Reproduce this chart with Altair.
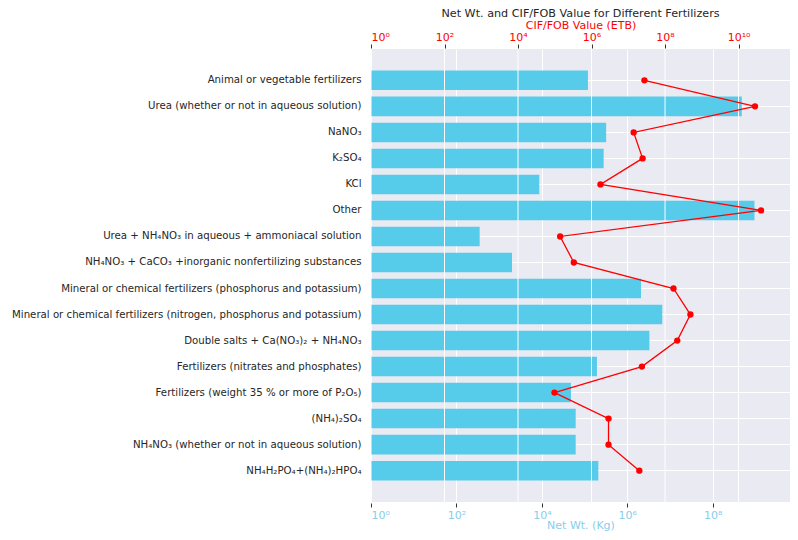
import altair as alt
import pandas as pd

categories = [
    "Animal or vegetable fertilizers",
    "Urea (whether or not in aqueous solution)",
    "NaNO₃",
    "K₂SO₄",
    "KCl",
    "Other",
    "Urea + NH₄NO₃ in aqueous + ammoniacal solution",
    "NH₄NO₃ + CaCO₃ +inorganic nonfertilizing substances",
    "Mineral or chemical fertilizers (phosphorus and potassium)",
    "Mineral or chemical fertilizers (nitrogen, phosphorus and potassium)",
    "Double salts + Ca(NO₃)₂ + NH₄NO₃",
    "Fertilizers (nitrates and phosphates)",
    "Fertilizers (weight 35 % or more of P₂O₅)",
    "(NH₄)₂SO₄",
    "NH₄NO₃ (whether or not in aqueous solution)",
    "NH₄H₂PO₄+(NH₄)₂HPO₄",
]
net_wt_kg = [1.2e5, 4.8e8, 3.2e5, 2.8e5, 8.7e3, 9.5e8, 3.5e2, 2.0e3,
             2.1e6, 6.6e6, 3.3e6, 1.95e5, 4.8e4, 6.2e4, 6.2e4, 2.1e5]
cif_fob_etb = [2.75e7, 2.8e10, 1.4e7, 2.45e7, 1.75e6, 4.1e10, 1.4e5, 3.3e5,
               1.7e8, 4.9e8, 2.15e8, 2.35e7, 9.8e4, 2.9e6, 2.9e6, 2.0e7]
net_ticks = [1, 1e2, 1e4, 1e6, 1e8]
cif_ticks = [1, 1e2, 1e4, 1e6, 1e8, 1e10]

df = pd.DataFrame({
    "cat": categories,
    "net": net_wt_kg,
    "cif": cif_fob_etb,
    "base": [1] * len(categories),
    "idx": list(range(len(categories))),
})
grid_df = pd.DataFrame({"cif": cif_ticks})

SUP = ("['10\u2070','10\u00b9','10\u00b2','10\u00b3','10\u2074','10\u2075','10\u2076',"
       "'10\u2077','10\u2078','10\u2079','10\u00b9\u2070','10\u00b9\u00b9']"
       "[round(log(datum.value)/LN10)]")

BLUE_TXT = "#87CEEB"
BAR = "#57CBEA"
FONT = "DejaVu Sans"

net_dom = [1, 10 ** 9.81]
cif_dom = [1, 10 ** 11.40]

yenc = alt.Y(
    "cat:N", sort=None, title=None,
    scale=alt.Scale(paddingInner=0.25, paddingOuter=0.83),
    axis=alt.Axis(labelFont=FONT, labelFontSize=10.2, labelColor="#262626",
                  labelPadding=10, ticks=False, domain=False, grid=True,
                  gridColor="white", gridWidth=1, bandPosition=0.5,
                  labelLimit=400),
)

bars = alt.Chart(df).mark_bar(color=BAR).encode(
    x=alt.X("net:Q", scale=alt.Scale(type="log", domain=net_dom, nice=False, clamp=True),
            axis=alt.Axis(orient="bottom", values=net_ticks, labelExpr=SUP,
                          title="Net Wt. (Kg)", titleColor=BLUE_TXT, titleFont=FONT,
                          titleFontSize=11, titleFontWeight="normal",
                          titleY=25, titleBaseline="alphabetic",
                          labelColor=BLUE_TXT, labelFont=FONT, labelFontSize=11,
                          labelPadding=2, tickSize=4, tickColor="#333333", offset=1,
                          domain=False, grid=True, gridColor="white", gridWidth=1)),
    x2="base:Q",
    y=yenc,
)

top_axis = alt.Axis(orient="top", values=cif_ticks, labelExpr=SUP,
                    title="CIF/FOB Value (ETB)", titleColor="red", titleFont=FONT,
                    titleFontSize=11, titleFontWeight="normal",
                    titleY=-20, titleBaseline="alphabetic",
                    labelColor="red", labelFont=FONT, labelFontSize=11,
                    labelPadding=2, tickSize=4, tickColor="#333333", offset=1,
                    domain=False, grid=False)
top_scale = alt.Scale(type="log", domain=cif_dom, nice=False)

grid_rules = alt.Chart(grid_df).mark_rule(color="white", strokeWidth=1).encode(
    x=alt.X("cif:Q", scale=top_scale, axis=top_axis),
)

line = alt.Chart(df).mark_line(color="red", strokeWidth=1.3, point=alt.OverlayMarkDef(
    color="red", filled=True, size=40, opacity=1)).encode(
    x=alt.X("cif:Q", scale=top_scale, axis=top_axis),
    y=alt.Y("cat:N", sort=None),
    order="idx:Q",
)

top = alt.layer(grid_rules, line)

chart = alt.layer(bars, top).resolve_scale(x="independent").properties(
    width=419, height=453,
    autosize=alt.AutoSizeParams(type="none"),
    padding={"left": 363, "top": 41, "right": 0, "bottom": 30},
    title=alt.TitleParams("Net Wt. and CIF/FOB Value for Different Fertilizers",
                          font=FONT, fontSize=11.2, fontWeight="normal", color="#262626",
                          anchor="middle", frame="group", offset=0),
).configure_view(fill="#EAEAF2", stroke=None)

chart.save("out.html", embed_options={"renderer": "svg", "actions": False})
